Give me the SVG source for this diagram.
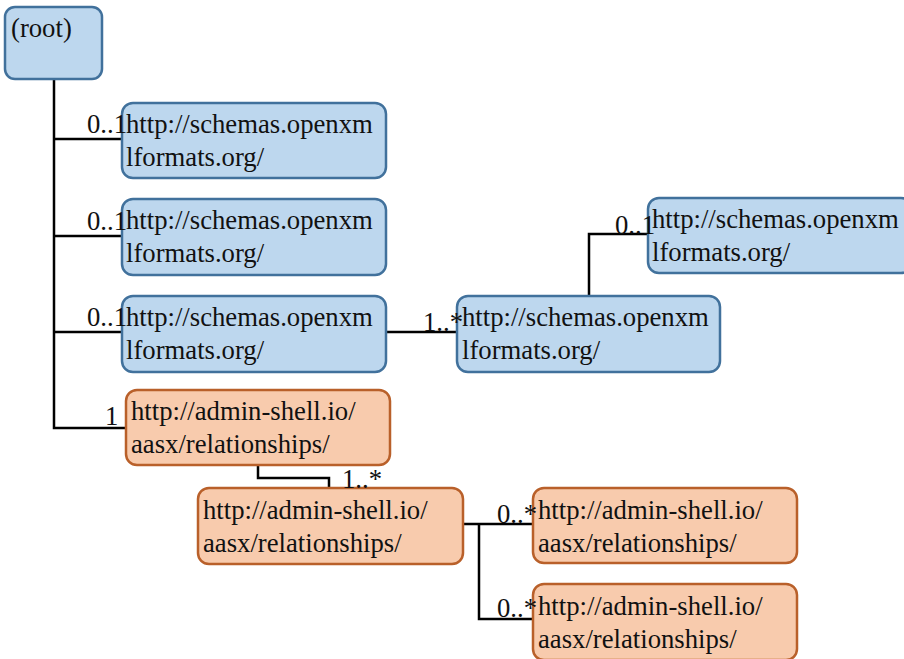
<svg xmlns="http://www.w3.org/2000/svg" width="904" height="659" viewBox="0 0 904 659">
<style>
  .blue { fill: #BDD7EE; stroke: #41719C; stroke-width: 2.5; }
  .orange { fill: #F8CBAD; stroke: #B9602A; stroke-width: 2.5; }
  .conn path { fill: none; stroke: #000; stroke-width: 2.5; }
  .t { font-family: "Liberation Serif", "Times New Roman", serif; font-size: 26.7px; fill: #111; }
</style>
<rect width="904" height="659" fill="#fff"/>
<g class="conn" id="connectors">
  <path d="M54,80 V428 H126"/>
  <path d="M54,139 H122"/>
  <path d="M54,236 H122"/>
  <path d="M54,332 H122"/>
  <path d="M386,332 H457"/>
  <path d="M589,296 V234 H648"/>
  <path d="M258,465 V478 H329 V488"/>
  <path d="M463,524 H533"/>
  <path d="M479,524 V619 H533"/>
</g>
<g class="t">
<g id="root">
  <rect class="blue" x="5" y="7" width="97" height="72" rx="10"/>
  <text x="11" y="37">(root)</text>
</g>
<g id="node1">
  <rect class="blue" x="122" y="103" width="264" height="75" rx="11"/>
  <text x="126" y="133">http://schemas.openxm</text>
  <text x="126" y="166">lformats.org/</text>
</g>
<g id="node2">
  <rect class="blue" x="122" y="199" width="264" height="76" rx="11"/>
  <text x="126" y="229">http://schemas.openxm</text>
  <text x="126" y="262">lformats.org/</text>
</g>
<g id="node3">
  <rect class="blue" x="122" y="296" width="264" height="76" rx="11"/>
  <text x="126" y="326">http://schemas.openxm</text>
  <text x="126" y="359">lformats.org/</text>
</g>
<g id="node4">
  <rect class="blue" x="457" y="296" width="263" height="76" rx="11"/>
  <text x="462" y="326">http://schemas.openxm</text>
  <text x="462" y="359">lformats.org/</text>
</g>
<g id="node5">
  <rect class="blue" x="648" y="198" width="264" height="75" rx="11"/>
  <text x="652" y="228">http://schemas.openxm</text>
  <text x="652" y="261">lformats.org/</text>
</g>
<g id="orange1">
  <rect class="orange" x="126" y="390" width="264" height="75" rx="11"/>
  <text x="131" y="420">http://admin-shell.io/</text>
  <text x="131" y="453">aasx/relationships/</text>
</g>
<g id="orange2">
  <rect class="orange" x="198" y="488" width="265" height="76" rx="11"/>
  <text x="203" y="519">http://admin-shell.io/</text>
  <text x="203" y="552">aasx/relationships/</text>
</g>
<g id="orange3">
  <rect class="orange" x="533" y="488" width="264" height="75" rx="11"/>
  <text x="538" y="519">http://admin-shell.io/</text>
  <text x="538" y="552">aasx/relationships/</text>
</g>
<g id="orange4">
  <rect class="orange" x="533" y="584" width="264" height="76" rx="11"/>
  <text x="538" y="615">http://admin-shell.io/</text>
  <text x="538" y="648">aasx/relationships/</text>
</g>
<g id="labels">
  <text x="87" y="133">0..1</text>
  <text x="87" y="230">0..1</text>
  <text x="87" y="326">0..1</text>
  <text x="105" y="425">1</text>
  <text x="423" y="331">1..*</text>
  <text x="615" y="234">0..1</text>
  <text x="342" y="488">1..*</text>
  <text x="497" y="523">0..*</text>
  <text x="497" y="617">0..*</text>
</g>
</g>
</svg>
